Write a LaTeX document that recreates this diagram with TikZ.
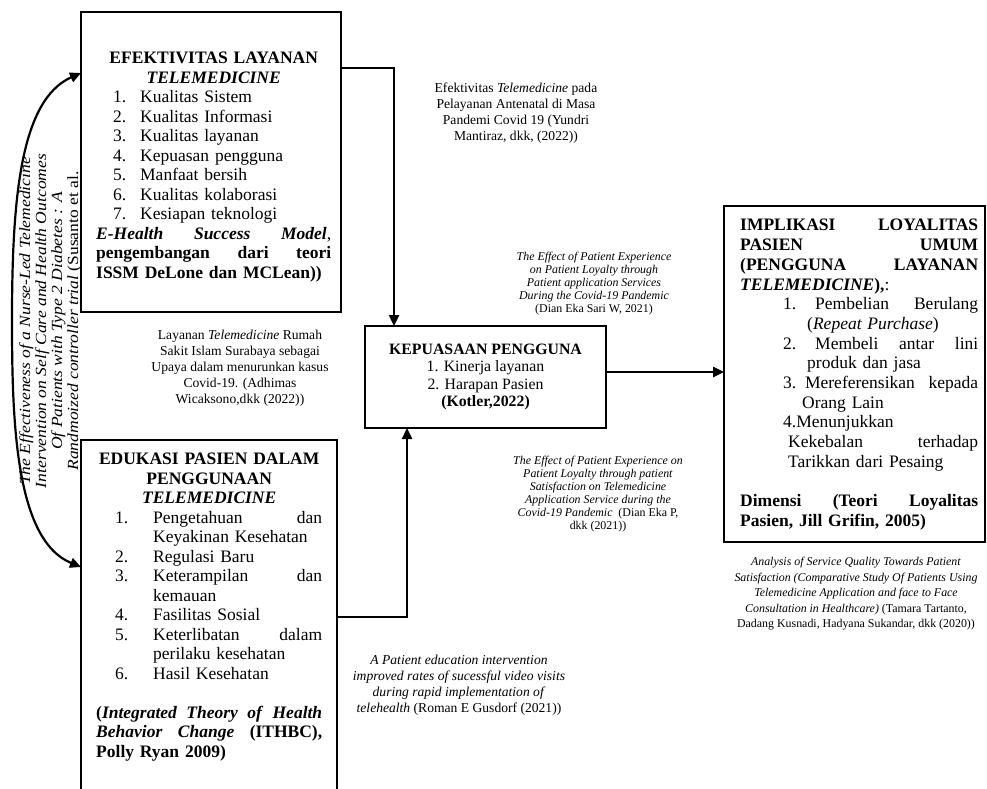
\documentclass[tikz,border=0pt]{standalone}
\usepackage{fontspec}
\setmainfont{Liberation Serif}
\usetikzlibrary{arrows.meta}
\newcommand{\rowline}[1]{\par\noindent\hbox to \hsize{#1}\par}
\begin{document}
\begin{tikzpicture}[x=1pt,y=-1pt,
  box/.style={draw, line width=1.6pt, inner sep=0pt, outer sep=0pt},
  conn/.style={line width=2.4pt, -{Triangle[length=11pt,width=10pt]}},
  bigtxt/.style={inner sep=0pt, align=left, font=\fontsize{17.5}{19.5}\selectfont},
  ann/.style={inner sep=0pt, align=center, font=\fontsize{13.6}{16}\selectfont},
  smallann/.style={inner sep=0pt, align=center, font=\fontsize{11.9}{13}\selectfont},
]
\useasboundingbox (0,0) rectangle (987,789);

% top box
\node[box, anchor=north west, minimum width=260pt, minimum height=300pt] (topbox) at (81,12) {};
\node[bigtxt, text width=235pt, anchor=north west] (toptxt) at (96,44) {%
\rowline{\hfil\textbf{EFEKTIVITAS LAYANAN}\hfil}
\rowline{\hfil\textbf{\textit{TELEMEDICINE}}\hfil}
\rowline{\hspace*{17pt}\makebox[27pt][l]{1.}Kualitas Sistem\hfil}
\rowline{\hspace*{17pt}\makebox[27pt][l]{2.}Kualitas Informasi\hfil}
\rowline{\hspace*{17pt}\makebox[27pt][l]{3.}Kualitas layanan\hfil}
\rowline{\hspace*{17pt}\makebox[27pt][l]{4.}Kepuasan pengguna\hfil}
\rowline{\hspace*{17pt}\makebox[27pt][l]{5.}Manfaat bersih\hfil}
\rowline{\hspace*{17pt}\makebox[27pt][l]{6.}Kualitas kolaborasi\hfil}
\rowline{\hspace*{17pt}\makebox[27pt][l]{7.}Kesiapan teknologi\hfil}
\rowline{\textbf{\textit{E-Health}}\hfill\textbf{\textit{Success}}\hfill\textbf{\textit{Model}},}
\rowline{\textbf{pengembangan}\hfill\textbf{dari}\hfill\textbf{teori}}
\rowline{\textbf{ISSM DeLone dan MCLean))}\hfil}};

% bottom box (cut by the page edge)
\node[inner sep=0pt, outer sep=0pt, anchor=north west, minimum width=256pt, minimum height=349pt] (botbox) at (81,440) {};
\draw[line width=1.6pt] (botbox.south west) -- (botbox.north west) -- (botbox.north east) -- (botbox.south east);
\node[bigtxt, text width=226pt, anchor=north west] (bottxt) at (96,445) {%
\rowline{\hfil\textbf{EDUKASI PASIEN DALAM}\hfil}
\rowline{\hfil\textbf{PENGGUNAAN}\hfil}
\rowline{\hfil\textbf{\textit{TELEMEDICINE}}\hfil}
\rowline{\hspace*{19pt}\makebox[38pt][l]{1.}Pengetahuan\hfill dan}
\rowline{\hspace*{57pt}Keyakinan Kesehatan\hfil}
\rowline{\hspace*{19pt}\makebox[38pt][l]{2.}Regulasi Baru\hfil}
\rowline{\hspace*{19pt}\makebox[38pt][l]{3.}Keterampilan\hfill dan}
\rowline{\hspace*{57pt}kemauan\hfil}
\rowline{\hspace*{19pt}\makebox[38pt][l]{4.}Fasilitas Sosial\hfil}
\rowline{\hspace*{19pt}\makebox[38pt][l]{5.}Keterlibatan\hfill dalam}
\rowline{\hspace*{57pt}perilaku kesehatan\hfil}
\rowline{\hspace*{19pt}\makebox[38pt][l]{6.}Hasil Kesehatan\hfil}
\rowline{}
\rowline{\textbf{(\textit{Integrated}}\hfill\textbf{\textit{Theory}}\hfill\textbf{\textit{of}}\hfill\textbf{\textit{Health}}}
\rowline{\textbf{\textit{Behavior}}\hfill\textbf{\textit{Change}}\hfill\textbf{(ITHBC),}}
\rowline{\textbf{Polly Ryan 2009)}\hfil}};

% middle box
\node[box, minimum width=241pt, minimum height=102pt, align=center, font=\fontsize{15.8}{17.5}\selectfont] (kep) at (485.5,377)
 {\textbf{KEPUASAAN PENGGUNA}\\1. Kinerja layanan\\2. Harapan Pasien\\\textbf{(Kotler,2022)}};

% right box
\node[box, anchor=north west, minimum width=261pt, minimum height=336pt] (impl) at (724,206) {};
\node[bigtxt, font=\fontsize{17.5}{19.7}\selectfont, text width=238pt, anchor=north west] (impltxt) at (740,211) {%
\rowline{\textbf{IMPLIKASI}\hfill\textbf{LOYALITAS}}
\rowline{\textbf{PASIEN}\hfill\textbf{UMUM}}
\rowline{\textbf{(PENGGUNA}\hfill\textbf{LAYANAN}}
\rowline{\textbf{\textit{TELEMEDICINE}),}:\hfil}
\rowline{\hspace*{43pt}\makebox[32pt][l]{1.}Pembelian\hfill Berulang}
\rowline{\hspace*{67pt}(\textit{Repeat Purchase})\hfil}
\rowline{\hspace*{43pt}\makebox[32pt][l]{2.}Membeli\hfill antar\hfill lini}
\rowline{\hspace*{67pt}produk dan jasa\hfil}
\rowline{\hspace*{43pt}3. Mereferensikan\hfill kepada}
\rowline{\hspace*{62pt}Orang Lain\hfil}
\rowline{\hspace*{43pt}4.Menunjukkan\hfil}
\rowline{\hspace*{48pt}Kekebalan\hfill terhadap}
\rowline{\hspace*{48pt}Tarikkan dari Pesaing\hfil}
\rowline{}
\rowline{\textbf{Dimensi}\hfill\textbf{(Teori}\hfill\textbf{Loyalitas}}
\rowline{\textbf{Pasien, Jill Grifin, 2005)}\hfil}};

% connectors
\coordinate (j1) at (394,68);
\coordinate (j2) at (407,617);
\coordinate (j3) at (606,372);
\draw[conn] (topbox.east |- j1) -- (j1) -- (kep.north -| j1);
\draw[conn] (botbox.east |- j2) -- (j2) -- (kep.south -| j2);
\draw[conn] (kep.east |- j3) -- (impl.west |- j3);

\coordinate (cA) at (81,73);
\coordinate (cB) at (81,567);
\draw[line width=2.2pt, {Triangle[length=11pt,width=10pt]}-{Triangle[length=11pt,width=10pt]}]
  (cB) .. controls (15,540) and (12,420) .. (12,320) .. controls (12,200) and (20,100) .. (cA);

% annotations
\node[rotate=90, inner sep=0pt, font=\fontsize{15.5}{16}\selectfont\itshape] (nurse) at (51,321)
 {\scalebox{1.13}[1]{\begin{tabular}{@{}c@{}}The Effectiveness of a Nurse-Led Telemedicine\\Intervention on Self Care and Health Outcomes\\Of Patients with Type 2 Diabetes : A\\Randmoized controller trial {\upshape (Susanto et al.}\end{tabular}}};

\node[ann] (a1) at (516,113) {Efektivitas \textit{Telemedicine} pada\\Pelayanan Antenatal di Masa\\Pandemi Covid 19 (Yundri\\Mantiraz, dkk, (2022))};
\node[ann] (a2) at (240,368) {Layanan \textit{Telemedicine} Rumah\\Sakit Islam Surabaya sebagai\\Upaya dalam menurunkan kasus\\Covid-19. (Adhimas\\Wicaksono,dkk (2022))};
\node[smallann] (a3) at (594,284) {\textit{The Effect of Patient Experience}\\\textit{on Patient Loyalty through}\\\textit{Patient application Services}\\\textit{During the Covid-19 Pandemic}\\(Dian Eka Sari W, 2021)};
\node[smallann] (a4) at (598,494) {\textit{The Effect of Patient Experience on}\\\textit{Patient Loyalty through patient}\\\textit{Satisfaction on Telemedicine}\\\textit{Application Service during the}\\\textit{Covid-19 Pandemic}\ \ (Dian Eka P,\\dkk (2021))};
\node[ann] (a5) at (459,685) {\textit{A Patient education intervention}\\\textit{improved rates of sucessful video visits}\\\textit{during rapid implementation of}\\\textit{telehealth} (Roman E Gusdorf (2021))};
\node[smallann, font=\fontsize{11.9}{15.5}\selectfont] (a6) at (856,594) {\textit{Analysis of Service Quality Towards Patient}\\\textit{Satisfaction (Comparative Study Of Patients Using}\\\textit{Telemedicine Application and face to Face}\\\textit{Consultation in Healthcare)} (Tamara Tartanto,\\Dadang Kusnadi, Hadyana Sukandar, dkk (2020))};
\end{tikzpicture}
\end{document}
